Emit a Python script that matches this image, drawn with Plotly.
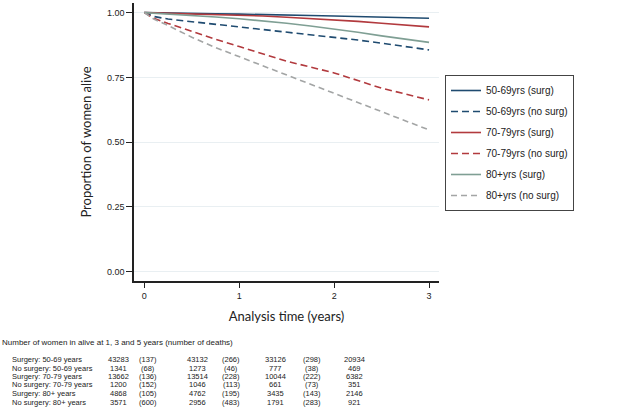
import plotly.graph_objects as go

# Survival curves
t = [0, 0.1, 0.25, 0.5, 0.75, 1, 1.25, 1.5, 1.75, 2, 2.25, 2.5, 2.75, 3]
surg_50_69 = [1.0, 0.999, 0.998, 0.997, 0.995, 0.994, 0.993, 0.991, 0.989, 0.987, 0.985, 0.982, 0.980, 0.978]
nosurg_50_69 = [1.0, 0.985, 0.975, 0.965, 0.955, 0.945, 0.935, 0.925, 0.915, 0.905, 0.894, 0.882, 0.869, 0.856]
surg_70_79 = [1.0, 0.999, 0.998, 0.996, 0.994, 0.991, 0.987, 0.982, 0.977, 0.972, 0.966, 0.959, 0.952, 0.945]
nosurg_70_79 = [1.0, 0.978, 0.958, 0.927, 0.897, 0.869, 0.840, 0.812, 0.790, 0.767, 0.738, 0.708, 0.686, 0.663]
surg_80 = [1.0, 0.998, 0.995, 0.990, 0.983, 0.976, 0.968, 0.959, 0.948, 0.937, 0.924, 0.910, 0.898, 0.885]
nosurg_80 = [1.0, 0.975, 0.950, 0.905, 0.865, 0.830, 0.795, 0.759, 0.724, 0.689, 0.653, 0.618, 0.583, 0.547]

# Number at risk table
row_labels = ["Surgery: 50-69 years", "No surgery: 50-69 years", "Surgery: 70-79 years",
              "No surgery: 70-79 years", "Surgery: 80+ years", "No surgery: 80+ years"]
at_risk_1 = [43283, 1341, 13662, 1200, 4868, 3571]
deaths_1 = [137, 68, 136, 152, 105, 600]
at_risk_2 = [43132, 1273, 13514, 1046, 4762, 2956]
deaths_2 = [266, 46, 228, 113, 195, 483]
at_risk_3 = [33126, 777, 10044, 661, 3435, 1791]
deaths_3 = [298, 38, 222, 73, 143, 283]
at_risk_4 = [20934, 469, 6382, 351, 2146, 921]
table_title = "Number of women in alive at 1, 3 and 5 years (number of deaths)"

BLUE = "#1f4b70"
RED = "#b23a3e"
GREEN = "#7f9f94"
GREY = "#a3a5a5"

series = [
    ("50-69yrs (surg)", surg_50_69, BLUE, "solid"),
    ("50-69yrs (no surg)", nosurg_50_69, BLUE, "7px,4px"),
    ("70-79yrs (surg)", surg_70_79, RED, "solid"),
    ("70-79yrs (no surg)", nosurg_70_79, RED, "7px,4px"),
    ("80+yrs (surg)", surg_80, GREEN, "solid"),
    ("80+yrs (no surg)", nosurg_80, GREY, "6px,4px"),
]

fig = go.Figure()
for i, (name, vals, col, dash) in enumerate(series):
    fig.add_trace(go.Scatter(x=t, y=vals, mode="lines", name=name, legendgroup=str(i),
                             line=dict(color=col, width=1.6, dash=dash)))

# plot area in pixels
L, R, T, B = 134, 439, 3, 281
W, H = 640, 420


def px(x):
    return (x - L) / (R - L)


def py(y):
    return (B - y) / (B - T)


ann = []
head_font = dict(family="Liberation Sans, Arial", size=8, color="#222")
cell_font = dict(family="Liberation Sans, Arial", size=7.5, color="#222")
ann.append(dict(x=px(0), y=py(342), xref="paper", yref="paper", text=table_title,
                showarrow=False, xanchor="left", yanchor="middle", font=head_font))
col_x = [118, 148, 197, 231, 275, 312, 354]
row_y = [359, 368, 376.5, 385, 393.5, 402.2]
for r, lab in enumerate(row_labels):
    ann.append(dict(x=px(10), y=py(row_y[r]), xref="paper", yref="paper", text=lab,
                    showarrow=False, xanchor="left", yanchor="middle", font=cell_font))
    cells = [str(at_risk_1[r]), "(%d)" % deaths_1[r], str(at_risk_2[r]), "(%d)" % deaths_2[r],
             str(at_risk_3[r]), "(%d)" % deaths_3[r], str(at_risk_4[r])]
    for c, txt in enumerate(cells):
        ann.append(dict(x=px(col_x[c]), y=py(row_y[r]), xref="paper", yref="paper", text=txt,
                        showarrow=False, xanchor="center", yanchor="middle", font=cell_font))

fig.update_layout(
    width=W, height=H,
    margin=dict(l=L, r=W - R, t=T, b=H - B, autoexpand=False),
    paper_bgcolor="white", plot_bgcolor="white",
    font=dict(family="Liberation Sans, Arial", size=9, color="#222"),
    showlegend=True,
    legend=dict(x=px(445), y=py(75), xanchor="left", yanchor="top",
                bordercolor="#444", borderwidth=1, bgcolor="white",
                font=dict(size=10), tracegroupgap=2,
                entrywidth=165, entrywidthmode="pixels"),
    annotations=ann,
)
fig.update_xaxes(range=[-0.109, 3.105], tickvals=[0, 1, 2, 3], ticks="outside", ticklen=5,
                 tickcolor="#222", showline=True, linecolor="#222", linewidth=1.5,
                 showgrid=False, zeroline=False,
                 title=dict(text="Analysis time (years)", standoff=12,
                            font=dict(family="Lato, Open Sans", size=13)))
fig.update_yaxes(range=[-0.036, 1.037], tickvals=[0, 0.25, 0.5, 0.75, 1], tickformat=".2f",
                 ticks="outside", ticklen=6, tickcolor="#222", showline=True, linecolor="#222",
                 linewidth=1.5, showgrid=True, gridcolor="#e9eff2", gridwidth=1, zeroline=False,
                 title=dict(text="Proportion of women alive", standoff=12,
                            font=dict(family="Lato, Open Sans", size=13)))

# page body has a default 8px margin; drop it so the figure sits at the window origin
fig.write_html("out.html", config={"displayModeBar": False},
               post_script="document.body.style.margin='0';")
